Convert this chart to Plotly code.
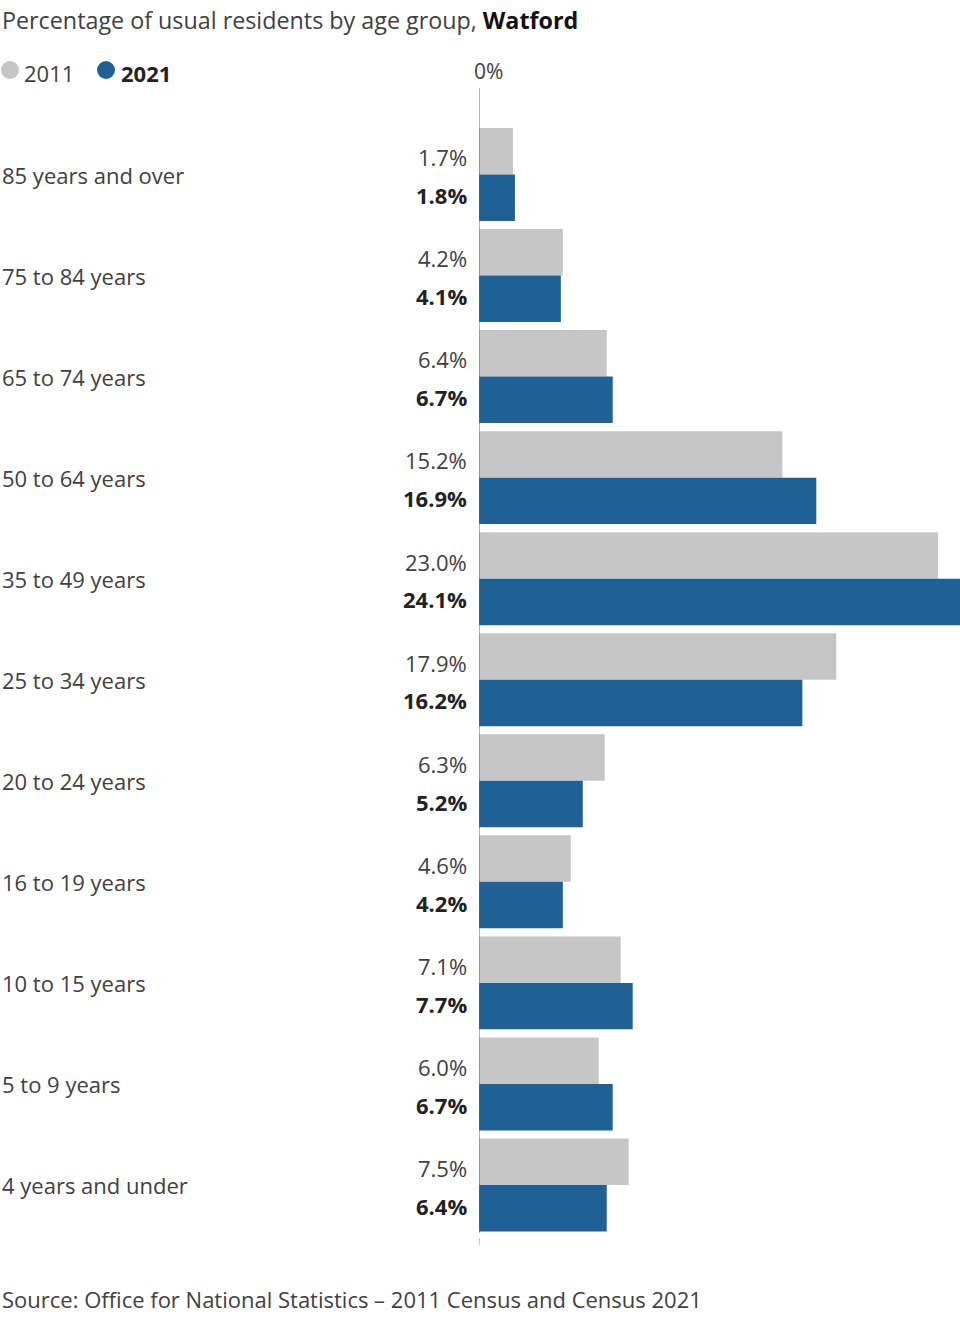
import plotly.graph_objects as go

categories = ["85 years and over", "75 to 84 years", "65 to 74 years", "50 to 64 years",
              "35 to 49 years", "25 to 34 years", "20 to 24 years", "16 to 19 years",
              "10 to 15 years", "5 to 9 years", "4 years and under"]
values_2011 = [1.7, 4.2, 6.4, 15.2, 23.0, 17.9, 6.3, 4.6, 7.1, 6.0, 7.5]
values_2021 = [1.8, 4.1, 6.7, 16.9, 24.1, 16.2, 5.2, 4.2, 7.7, 6.7, 6.4]
series_names = ["2011", "2021"]

GREY = "#c6c6c6"
BLUE = "#206095"
TEXT = "#414042"
DARK = "#222222"
FONT = "Open Sans"

W, H = 960, 1317
PL, PR, PT, PB = 479, 960, 88, 1245  # plot area in pixels


def px(x):
    return (x - PL) / (PR - PL)


def py(y):
    return (PB - y) / (PB - PT)


idx = list(range(len(categories)))

fig = go.Figure()
fig.add_trace(go.Bar(y=idx, x=values_2011, orientation="h", name=series_names[0],
                     marker=dict(color=GREY, line=dict(width=0)), showlegend=False,
                     hoverinfo="skip"))
fig.add_trace(go.Bar(y=idx, x=values_2021, orientation="h", name=series_names[1],
                     marker=dict(color=BLUE, line=dict(width=0)), showlegend=False,
                     hoverinfo="skip"))

annotations = []
for i, cat in enumerate(categories):
    annotations.append(dict(x=px(0), xref="paper", y=i, yref="y", text=cat,
                            xanchor="left", yanchor="middle", showarrow=False,
                            font=dict(family=FONT, size=22, color=TEXT)))
    annotations.append(dict(x=0, xref="x", y=i - 0.17, yref="y", text=f"{values_2011[i]:.1f}%",
                            xanchor="right", yanchor="middle", xshift=-10, showarrow=False,
                            font=dict(family=FONT, size=22, color=TEXT)))
    annotations.append(dict(x=0, xref="x", y=i + 0.205, yref="y", text=f"<b>{values_2021[i]:.1f}%</b>",
                            xanchor="right", yanchor="middle", xshift=-10, showarrow=False,
                            font=dict(family=FONT, size=22, color=DARK)))

# title
annotations.append(dict(x=px(0), xref="paper", y=py(20), yref="paper",
                        text="Percentage of usual residents by age group, <b style='color:#111'>Watford</b>",
                        xanchor="left", yanchor="middle", showarrow=False,
                        font=dict(family=FONT, size=23.3, color=TEXT)))
# legend text
annotations.append(dict(x=px(22), xref="paper", y=py(73), yref="paper", text=series_names[0],
                        xanchor="left", yanchor="middle", showarrow=False,
                        font=dict(family=FONT, size=22, color=TEXT)))
annotations.append(dict(x=px(119), xref="paper", y=py(73), yref="paper", text=f"<b>{series_names[1]}</b>",
                        xanchor="left", yanchor="middle", showarrow=False,
                        font=dict(family=FONT, size=22, color=DARK)))
# 0% label
annotations.append(dict(x=px(472), xref="paper", y=py(71), yref="paper", text="0%",
                        xanchor="left", yanchor="middle", showarrow=False,
                        font=dict(family=FONT, size=21, color=TEXT)))
# source
annotations.append(dict(x=px(0), xref="paper", y=py(1299), yref="paper",
                        text="Source: Office for National Statistics – 2011 Census and Census 2021",
                        xanchor="left", yanchor="middle", showarrow=False,
                        font=dict(family=FONT, size=22, color=TEXT)))

shapes = [
    dict(type="circle", xref="paper", yref="paper", x0=px(1), x1=px(19), y0=py(79), y1=py(61),
         fillcolor=GREY, line=dict(width=0)),
    dict(type="circle", xref="paper", yref="paper", x0=px(97), x1=px(115), y0=py(79), y1=py(61),
         fillcolor=BLUE, line=dict(width=0)),
    dict(type="line", xref="x", yref="paper", x0=0, x1=0, y0=py(1233), y1=1,
         line=dict(color="#666666", width=1)),
    dict(type="line", xref="x", yref="paper", x0=0, x1=0, y0=0, y1=py(1238),
         line=dict(color="#888888", width=1)),
]

fig.update_layout(
    width=W, height=H,
    margin=dict(l=PL, r=W - PR, t=PT, b=H - PB),
    paper_bgcolor="white", plot_bgcolor="white",
    barmode="group", bargap=0.08, bargroupgap=0.0,
    xaxis=dict(range=[0, 24.1], visible=False, showgrid=False, zeroline=False, fixedrange=True),
    yaxis=dict(range=[10.594, -0.856], visible=False, showgrid=False, zeroline=False, fixedrange=True),
    annotations=annotations, shapes=shapes,
    showlegend=False,
)

fig.write_html("out.html",
               config={"displayModeBar": False, "staticPlot": True},
               post_script="document.body.style.margin='0';document.body.style.overflow='hidden';")
